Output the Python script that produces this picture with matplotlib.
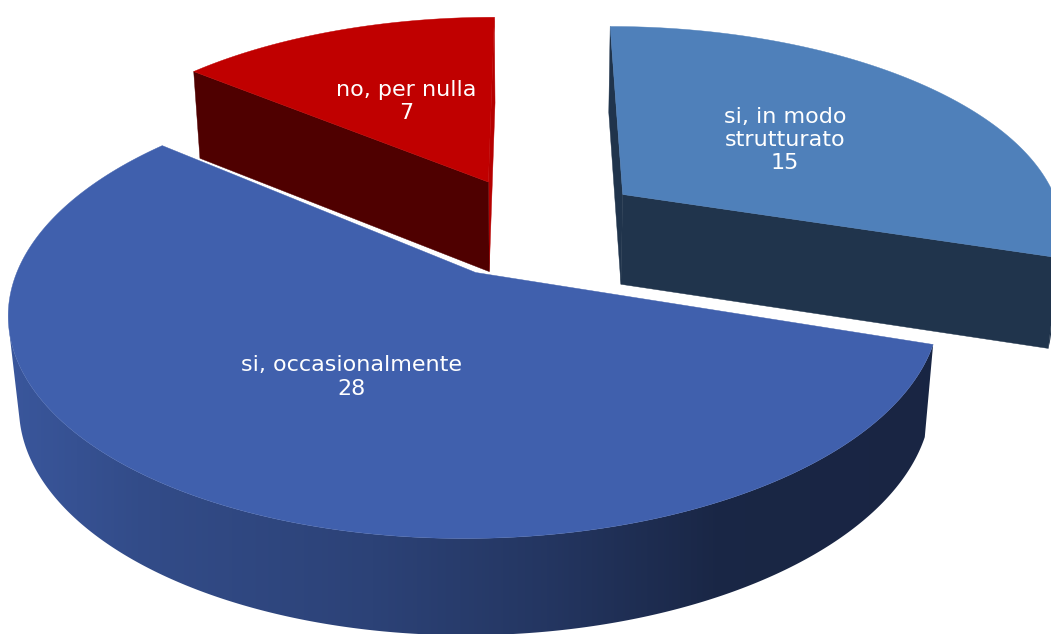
import numpy as np
import matplotlib
matplotlib.use("Agg")
import matplotlib.pyplot as plt
from matplotlib.patches import Polygon
from matplotlib.colors import to_rgb

# ---------------- data ----------------
categories = ["si, in modo\nstrutturato", "si, occasionalmente", "no, per nulla"]
values = [15, 28, 7]

# ---------------- style ----------------
top_colors = ["#4F80BA", "#4060AD", "#C00000"]
explode = [0.26, 0.255, 0.24]
dark_factor = 0.41
lit_factor = 0.95
grad_x = [12, 140, 370, 550, 720, 935]
grad_f = [0.90, 0.79, 0.69, 0.56, 0.40, 0.39]

W, H = 1051, 634
fig = plt.figure(figsize=(W / 100, H / 100), dpi=100)
ax = fig.add_axes([0, 0, 1, 1])
ax.set_axis_off()

# camera / projection
elev = np.radians(27.6)
sn, cs = np.sin(elev), np.cos(elev)
scale = 442.0
dist = 5.40
focal = scale * dist
cx0, cy0 = 532.0, 225.0
thick = 0.24
depth0 = 90.5
gamma = 0.3
cam_xy = np.array([0.0, -dist * cs])


def proj(x, y, z=0.0):
    x = np.asarray(x, float)
    y = np.asarray(y, float)
    yc = y * sn + z * cs
    zc = dist + y * cs - z * sn
    return cx0 + focal * x / zc, cy0 - focal * yc / zc, zc


def proj_bottom(x, y):
    tx, ty, zc = proj(x, y, 0.0)
    bx, by, _ = proj(x, y, -thick)
    vx, vy = bx - tx, by - ty
    n = np.hypot(vx, vy)
    dep = depth0 * (dist / zc) ** gamma
    return tx + vx / n * dep, ty + vy / n * dep


total = float(sum(values))
fracs = np.array(values) / total
cum = np.concatenate([[0], np.cumsum(fracs)])

slices = []
for i in range(len(values)):
    a1 = np.radians(90 - 360 * cum[i])      # start (clockwise from top)
    a0 = np.radians(90 - 360 * cum[i + 1])  # end
    mid = 0.5 * (a0 + a1)
    ox, oy = explode[i] * np.cos(mid), explode[i] * np.sin(mid)
    _, _, zc_c = proj(ox, oy)
    slices.append(dict(i=i, a0=a0, a1=a1, mid=mid, ox=ox, oy=oy, zc=float(zc_c)))

# back to front
slices.sort(key=lambda d: -d["zc"])


def shade(col, f):
    r, g, b = to_rgb(col)
    return (r * f, g * f, b * f)


def add_poly(xs, ys, color, z):
    p = Polygon(np.column_stack([xs, ys]), closed=True, facecolor=color,
                edgecolor=color, linewidth=0.3, zorder=z)
    ax.add_patch(p)
    return p


z = 1
for sl in slices:
    i = sl["i"]
    col = top_colors[i]
    ox, oy = sl["ox"], sl["oy"]
    ang = np.linspace(sl["a0"], sl["a1"], 600)
    rx = ox + np.cos(ang)
    ry = oy + np.sin(ang)

    # cut faces
    for a, nrm in ((sl["a0"], (np.sin(sl["a0"]), -np.cos(sl["a0"]))),
                   (sl["a1"], (-np.sin(sl["a1"]), np.cos(sl["a1"])))):
        vis = nrm[0] * (cam_xy[0] - ox) + nrm[1] * (cam_xy[1] - oy)
        if vis > 0:
            ex, ey = ox + np.cos(a), oy + np.sin(a)
            t1x, t1y, _ = proj(ox, oy)
            t2x, t2y, _ = proj(ex, ey)
            b2x, b2y = proj_bottom(ex, ey)
            b1x, b1y = proj_bottom(ox, oy)
            fc = shade(col, lit_factor if nrm[0] > 0.5 else dark_factor)
            add_poly([t1x, t2x, b2x, b1x], [t1y, t2y, b2y, b1y], fc, z)
            z += 1

    # outer curved side (visible portion)
    visible = (np.cos(ang) * (cam_xy[0] - rx) + np.sin(ang) * (cam_xy[1] - ry)) > 0
    idx = np.where(visible)[0]
    if len(idx) > 1:
        runs = np.split(idx, np.where(np.diff(idx) > 1)[0] + 1)
        for run in runs:
            if len(run) < 2:
                continue
            tx, ty, _ = proj(rx[run], ry[run])
            bx, by = proj_bottom(rx[run], ry[run])
            px = np.concatenate([tx, bx[::-1]])
            py = np.concatenate([ty, by[::-1]])
            patch = Polygon(np.column_stack([px, py]), closed=True,
                            facecolor="none", edgecolor="none", zorder=z)
            ax.add_patch(patch)
            xs = np.arange(W) + 0.5
            fac = np.interp(xs, grad_x, grad_f)
            base = np.array(to_rgb(col))
            img = (fac[:, None] * base[None, :])[None, :, :]
            im = ax.imshow(img, extent=(0, W, H, 0), aspect="auto",
                           interpolation="bilinear", zorder=z)
            im.set_clip_path(patch)
            z += 1

    # top face
    tx, ty, _ = proj(rx, ry)
    vx, vy, _ = proj(ox, oy)
    add_poly(np.concatenate([[vx], tx]), np.concatenate([[vy], ty]), col, z)
    z += 1

    # label
    lx, ly, _ = proj(ox + 0.5 * np.cos(sl["mid"]), oy + 0.5 * np.sin(sl["mid"]))
    ax.text(float(lx), float(ly), f"{categories[i]}\n{values[i]}", color="white",
            fontsize=16, family="DejaVu Sans", ha="center", va="center",
            multialignment="center", zorder=100)

ax.set_xlim(0, W)
ax.set_ylim(H, 0)
fig.savefig("out.png", dpi=100, facecolor="white")
